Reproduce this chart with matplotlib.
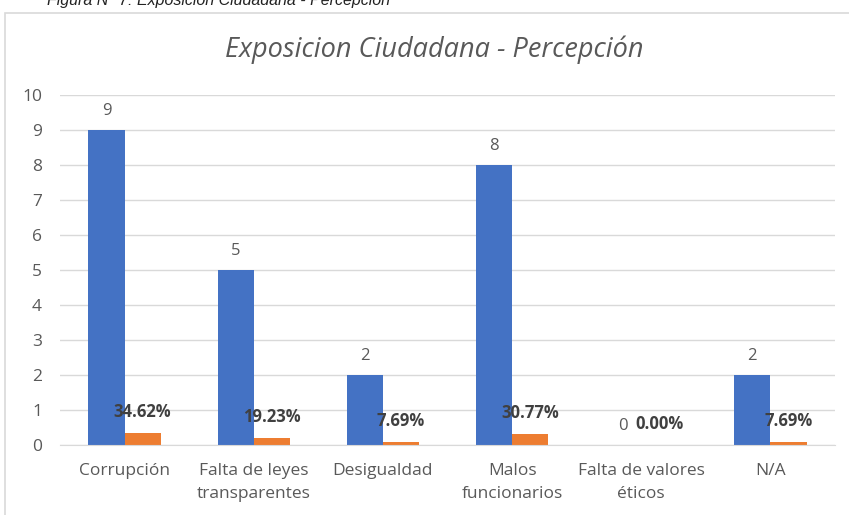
import matplotlib
matplotlib.use("Agg")
import matplotlib.pyplot as plt
from matplotlib.patches import Rectangle
import numpy as np

categories = ["Corrupción", "Falta de leyes\ntransparentes", "Desigualdad",
              "Malos\nfuncionarios", "Falta de valores\néticos", "N/A"]
counts = [9, 5, 2, 8, 0, 2]
shares = [0.3462, 0.1923, 0.0769, 0.3077, 0.0, 0.0769]

BLUE = "#4472C4"; ORANGE = "#ED7D31"; GRAY = "#595959"; DARK = "#404040"
plt.rcParams["font.family"] = ["Open Sans", "DejaVu Sans"]

fig = plt.figure(figsize=(8.49, 5.15), dpi=100)
fig.patches.append(Rectangle((5 / 849, -0.1), 1.2, 1 - 13 / 515 + 0.1, transform=fig.transFigure,
                             fill=False, edgecolor="#D9D9D9", lw=1.2))
fig.text(0.055, 1 - 5 / 515, "Figura N° 7: Exposición Ciudadana - Percepción",
         family="Liberation Sans", style="italic", fontsize=11.5, va="baseline", color="#222222")

ax = fig.add_axes([60 / 849, 70 / 515, 775 / 849, 350 / 515])
x = np.arange(len(categories))
w = 0.28
ax.bar(x - w / 2, counts, w, color=BLUE)
ax.bar(x + w / 2, shares, w, color=ORANGE)

for xi, c in zip(x, counts):
    ax.annotate(f"{c}", (xi - w / 2, c), textcoords="offset points", xytext=(0, 8),
                ha="center", va="bottom", fontsize=12, color=GRAY)
for xi, s in zip(x, shares):
    ax.annotate(f"{s * 100:.2f}%", (xi + w / 2, s), textcoords="offset points", xytext=(0, 15),
                ha="center", va="center", fontsize=12, color=DARK, fontweight="bold")

ax.set_xlim(-0.5, len(categories) - 0.5)
ax.set_ylim(0, 10)
ax.set_yticks(range(0, 11))
ax.set_xticks(x)
ax.set_xticklabels(categories, linespacing=1.6)
ax.tick_params(axis="y", length=0, pad=13, labelsize=12.5, labelcolor=GRAY)
ax.tick_params(axis="x", length=0, pad=13, labelsize=12.5, labelcolor=GRAY)
ax.grid(axis="y", color="#D9D9D9", lw=1)
ax.set_axisbelow(True)
for s in ["top", "right", "left"]:
    ax.spines[s].set_visible(False)
ax.spines["bottom"].set_color("#D9D9D9")

fig.text(0.512, 0.903, "Exposicion Ciudadana - Percepción", ha="center", va="center",
         style="italic", fontsize=19.5, color=GRAY)

fig.savefig("out.png", dpi=100)
